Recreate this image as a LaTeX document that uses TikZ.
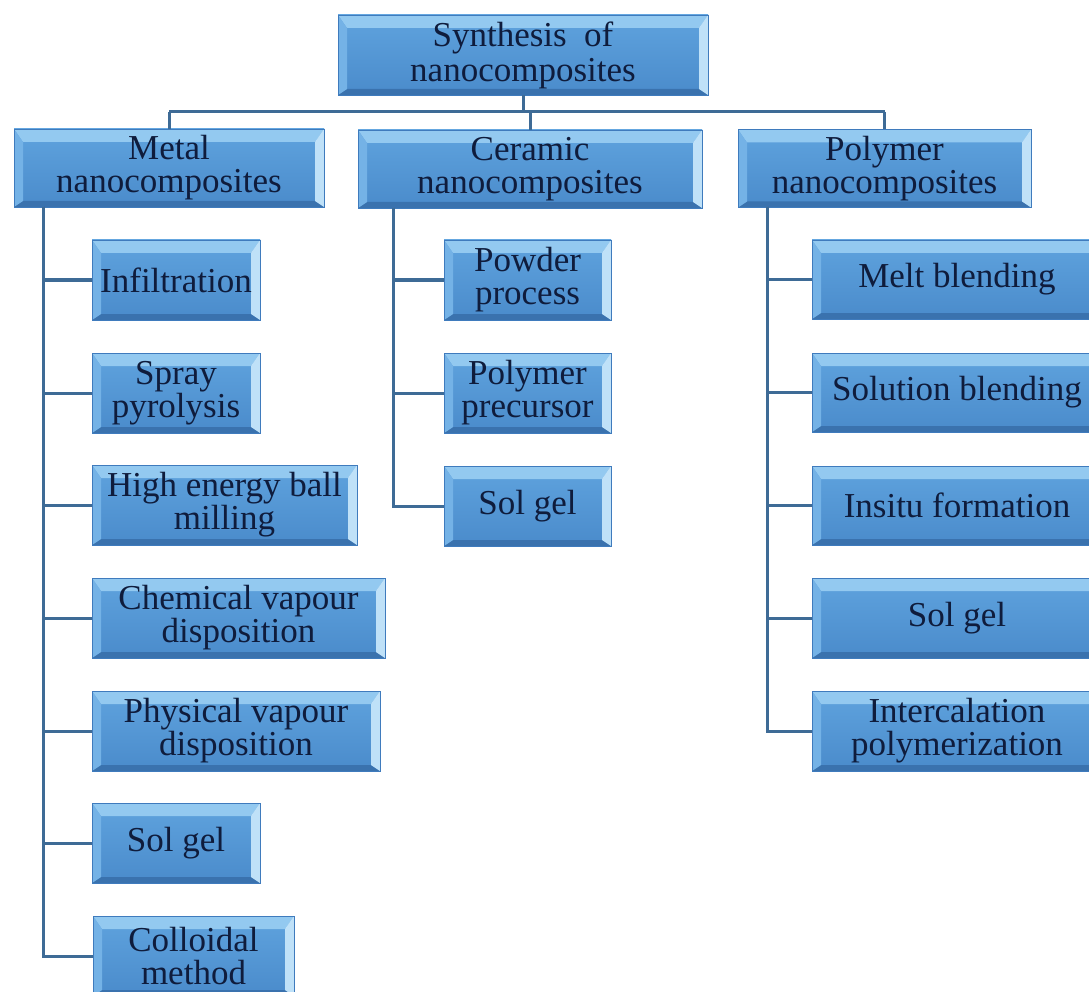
\documentclass[tikz,border=0pt]{standalone}
\usepackage{fontspec}
\setmainfont{Liberation Serif}
\usetikzlibrary{calc}
\definecolor{faceT}{HTML}{5FA3DE}
\definecolor{faceB}{HTML}{4A8BCB}
\definecolor{topc}{HTML}{93C9F0}
\definecolor{leftc}{HTML}{74B2E6}
\definecolor{rightc}{HTML}{BFE1F8}
\definecolor{botc}{HTML}{3A72AE}
\definecolor{edgec}{HTML}{3F7BBD}
\definecolor{txt}{HTML}{0F1C3C}
\definecolor{linec}{HTML}{3E6B96}
\newcommand\mybevel{%
  \coordinate (NW) at (path picture bounding box.north west);
  \coordinate (NE) at (path picture bounding box.north east);
  \coordinate (SW) at (path picture bounding box.south west);
  \coordinate (SE) at (path picture bounding box.south east);
  \fill[topc] (NW) -- (NE) -- ($(NE)+(-9pt,-13pt)$) -- ($(NW)+(9pt,-13pt)$) -- cycle;
  \fill[botc] (SW) -- (SE) -- ($(SE)+(-9pt,6pt)$) -- ($(SW)+(9pt,6pt)$) -- cycle;
  \fill[leftc] (NW) -- ($(NW)+(9pt,-13pt)$) -- ($(SW)+(9pt,6pt)$) -- (SW) -- cycle;
  \fill[rightc] (NE) -- ($(NE)+(-9pt,-13pt)$) -- ($(SE)+(-9pt,6pt)$) -- (SE) -- cycle;
}
\begin{document}
\begin{tikzpicture}[x=1pt,y=-1pt,
  bbox/.style={rectangle, inner sep=0pt, align=center, draw=edgec, line width=0.8pt,
    top color=faceT, bottom color=faceB, text=txt,
    font=\fontsize{35}{33}\selectfont, minimum height=80pt, path picture={\mybevel}},
  conn/.style={draw=linec, line width=3pt}]
\useasboundingbox (0,0) rectangle (1089,992);
\fill[white] (0,0) rectangle (1089,992);

\coordinate (bus) at (0,112);
\coordinate (mt) at (43,207);
\coordinate (ct) at (393,208);
\coordinate (pt) at (767,207);

\node[bbox, minimum width=370pt, font=\fontsize{35}{35}\selectfont] (root) at (523,55) {Synthesis\ \ of\\nanocomposites};
\node[bbox, minimum width=310pt, minimum height=78pt] (metal) at (169,168) {Metal\\nanocomposites};
\node[bbox, minimum width=344pt, minimum height=78pt] (ceramic) at (530,169) {Ceramic\\nanocomposites};
\node[bbox, minimum width=293pt, minimum height=78pt] (polymer) at (884.5,168.5) {Polymer\\nanocomposites};

\node[bbox, minimum width=168pt] (inf) at (176,280) {Infiltration};
\node[bbox, minimum width=168pt] (spray) at (176,393) {Spray\\pyrolysis};
\node[bbox, minimum width=265pt] (hebm) at (224.5,505) {High energy ball\\milling};
\node[bbox, minimum width=293pt] (cvd) at (238.5,618) {Chemical vapour\\disposition};
\node[bbox, minimum width=288pt] (pvd) at (236,731) {Physical vapour\\disposition};
\node[bbox, minimum width=168pt] (sg1) at (176,843) {Sol gel};
\node[bbox, minimum width=201pt] (coll) at (193.5,956) {Colloidal\\method};

\node[bbox, minimum width=167pt] (powder) at (527.5,280) {Powder\\process};
\node[bbox, minimum width=167pt] (prec) at (527.5,393) {Polymer\\precursor};
\node[bbox, minimum width=167pt] (sg2) at (527.5,506) {Sol gel};

\node[bbox, minimum width=290pt, minimum height=79pt] (melt) at (957,279.5) {Melt blending};
\node[bbox, minimum width=290pt, minimum height=79pt] (sol) at (957,392.5) {Solution blending};
\node[bbox, minimum width=290pt, minimum height=79pt] (insitu) at (957,505.5) {Insitu formation};
\node[bbox, minimum width=290pt] (sg3) at (957,618) {Sol gel};
\node[bbox, minimum width=290pt] (inter) at (957,731) {Intercalation\\polymerization};

% top connectors
\draw[conn] (root.south) -- (root.south |- bus);
\draw[conn] (metal.north |- bus) -- (polymer.north |- bus);
\draw[conn] (metal.north |- bus) -- (metal.north);
\draw[conn] (ceramic.north |- bus) -- (ceramic.north);
\draw[conn] (polymer.north |- bus) -- (polymer.north);
% metal branch
\draw[conn] (mt) |- (inf.west);
\draw[conn] (mt) |- (spray.west);
\draw[conn] (mt) |- (hebm.west);
\draw[conn] (mt) |- (cvd.west);
\draw[conn] (mt) |- (pvd.west);
\draw[conn] (mt) |- (sg1.west);
\draw[conn] (mt) |- (coll.west);
% ceramic branch
\draw[conn] (ct) |- (powder.west);
\draw[conn] (ct) |- (prec.west);
\draw[conn] (ct) |- (sg2.west);
% polymer branch
\draw[conn] (pt) |- (melt.west);
\draw[conn] (pt) |- (sol.west);
\draw[conn] (pt) |- (insitu.west);
\draw[conn] (pt) |- (sg3.west);
\draw[conn] (pt) |- (inter.west);
\end{tikzpicture}
\end{document}
